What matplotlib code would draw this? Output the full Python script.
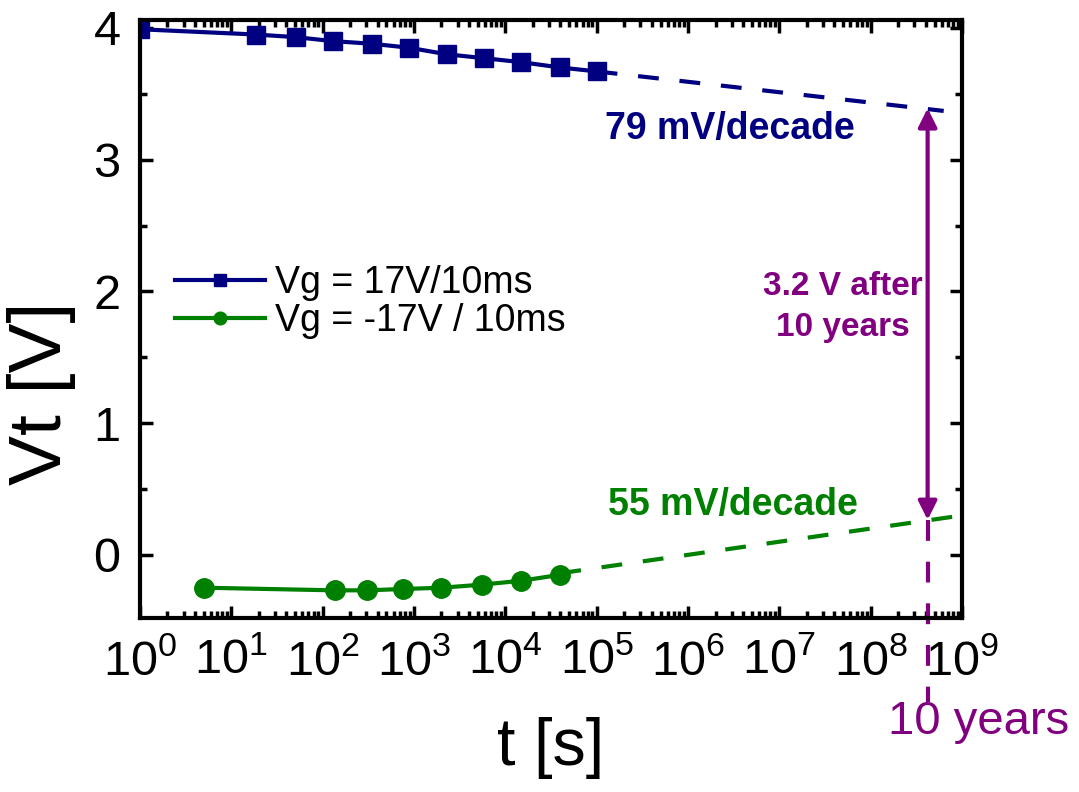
import numpy as np
import matplotlib
matplotlib.use("Agg")
import matplotlib.pyplot as plt
from matplotlib.ticker import LogLocator, MultipleLocator, LogFormatterMathtext

plt.rcParams['font.family'] = ['Liberation Sans', 'DejaVu Sans']
plt.rcParams['mathtext.fontset'] = 'custom'
plt.rcParams['mathtext.rm'] = 'Liberation Sans'
plt.rcParams['mathtext.default'] = 'regular'

# data
t_pos = [1, 18.6, 51, 129, 345, 880, 2290, 5900, 15000, 39600, 1e5]
vt_pos = [3.99, 3.95, 3.93, 3.90, 3.88, 3.85, 3.80, 3.77, 3.74, 3.70, 3.67]
t_neg = [5, 135, 304, 755, 2000, 5500, 15000, 40000]
vt_neg = [-0.25, -0.27, -0.27, -0.26, -0.25, -0.227, -0.197, -0.152]

# extrapolation lines
fit_pos_t = [1e5, 6.3e8]
fit_pos_v = [3.67, 3.37]
fit_neg_t = [4e4, 1.3e9]
fit_neg_v = [-0.14, 0.31]

t_10y = 4.2e8
v_top, v_bot = 3.39, 0.265

navy = '#000080'
green = '#008000'
purple = '#800080'

fig = plt.figure(figsize=(10.79, 7.92), dpi=100)
ax = fig.add_axes([0.1297, 0.2197, 0.7619, 0.7550])

ax.plot(t_pos, vt_pos, color=navy, lw=3, marker='s', ms=13, label='Vg = 17V/10ms')
ax.plot(t_neg, vt_neg, color=green, lw=3, marker='o', ms=14, label='Vg = -17V / 10ms')
ax.plot(fit_pos_t, fit_pos_v, color=navy, lw=3, dashes=(5, 5))
ax.plot(fit_neg_t, fit_neg_v, color=green, lw=3, dashes=(5, 5))

ax.annotate('', xy=(t_10y, v_top), xytext=(t_10y, v_bot),
            arrowprops=dict(arrowstyle='<|-|>', color=purple, lw=3,
                            mutation_scale=28, shrinkA=0, shrinkB=0))
ax.plot([t_10y, t_10y], [v_bot, -1.12], color=purple, lw=3, dashes=(5, 5), clip_on=False)

ax.text(2.9e6, 3.16, '79 mV/decade', color=navy, fontsize=27, fontweight='bold', ha='center', va='baseline')
ax.text(3.1e6, 0.30, '55 mV/decade', color=green, fontsize=27, fontweight='bold', ha='center', va='baseline')
ax.text(5.0e7, 1.88, '3.2 V after\n10 years', color=purple, fontsize=24, fontweight='bold',
        ha='center', va='center', multialignment='center', linespacing=1.4)
ax.text(1.55e8, -1.36, '10 years', color=purple, fontsize=34, ha='left', va='baseline')

ax.set_xscale('log')
ax.set_xlim(1, 1e9)
ax.set_ylim(-0.48, 4.06)
ax.xaxis.set_major_locator(LogLocator(base=10, numticks=20))
ax.xaxis.set_minor_locator(LogLocator(base=10, subs=np.arange(2, 10), numticks=20))
ax.xaxis.set_major_formatter(LogFormatterMathtext())
ax.yaxis.set_major_locator(MultipleLocator(1))
ax.yaxis.set_minor_locator(MultipleLocator(0.5))

ax.tick_params(which='both', direction='in', top=True, right=True, width=2.5)
ax.tick_params(which='major', length=9, labelsize=35)
ax.tick_params(which='minor', length=5)
ax.tick_params(axis='x', which='major', pad=15)
ax.tick_params(axis='y', which='major', pad=14)
for s in ax.spines.values():
    s.set_linewidth(3)

ax.set_xlabel('t [s]', fontsize=48)
ax.set_ylabel('Vt [V]', fontsize=54)
ax.yaxis.set_label_coords(-0.078, 0.375)
ax.xaxis.set_label_coords(0.5, -0.165)

leg = ax.legend(loc='center left', bbox_to_anchor=(0.0426, 0.528), frameon=False, fontsize=27,
                handlelength=2.4, handletextpad=0.27, labelspacing=0.05, borderpad=0,
                borderaxespad=0, markerscale=0.65)

fig.savefig('out.png', dpi=100)
